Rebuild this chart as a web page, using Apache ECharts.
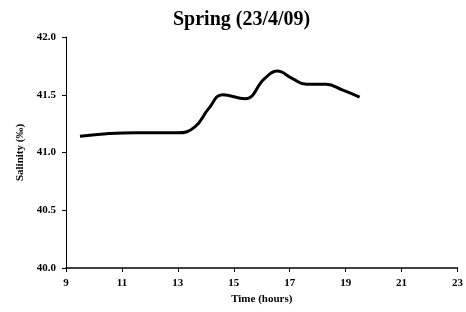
<!DOCTYPE html>
<html>
<head>
<meta charset="utf-8">
<script src="https://cdn.jsdelivr.net/npm/echarts@6/dist/echarts.min.js"></script>
<style>
  html, body { margin: 0; padding: 0; background: #fff; }
  #chart { width: 466px; height: 312px; }
</style>
</head>
<body>
<div id="chart"></div>
<script>
// time of day (hours) and salinity readings
var hours = [9.5, 11.5, 13, 13.6, 14.1, 14.6, 15.4, 16.1, 16.55, 17.1, 17.6, 18.3, 18.9, 19.5]
var salinity = [41.14, 41.17, 41.17, 41.22, 41.38, 41.50, 41.465, 41.64, 41.705, 41.64, 41.59, 41.59, 41.54, 41.48]

var font = 'Liberation Serif'

var chart = echarts.init(document.getElementById('chart'))
chart.setOption({
  animation: false,
  title: {
    text: 'Spring (23/4/09)',
    left: 168,
    top: 5,
    textStyle: { fontFamily: font, fontWeight: 'bold', fontSize: 20, color: '#000' }
  },
  grid: { left: 66, right: 8, top: 37, bottom: 44 },
  xAxis: {
    type: 'value',
    min: 9,
    max: 23,
    interval: 2,
    name: 'Time (hours)',
    nameLocation: 'middle',
    nameGap: 25,
    nameTextStyle: { fontFamily: font, fontWeight: 'bold', fontSize: 11, color: '#000' },
    axisLine: { lineStyle: { color: '#000', width: 1.5 } },
    axisTick: { length: 4, lineStyle: { color: '#000' } },
    axisLabel: { fontFamily: font, fontWeight: 'bold', fontSize: 11, color: '#000', margin: 10 },
    splitLine: { show: false }
  },
  yAxis: {
    type: 'value',
    min: 40,
    max: 42,
    interval: 0.5,
    name: 'Salinity (‰)',
    nameLocation: 'middle',
    nameGap: 31,
    nameTextStyle: { fontFamily: font, fontWeight: 'bold', fontSize: 11, color: '#000' },
    axisLine: { show: true, lineStyle: { color: '#000', width: 1 } },
    axisTick: { show: true, length: 4, lineStyle: { color: '#000' } },
    axisLabel: {
      fontFamily: font, fontWeight: 'bold', fontSize: 11, color: '#000', margin: 10,
      formatter: function (v) { return v.toFixed(1) }
    },
    splitLine: { show: false }
  },
  series: [{
    type: 'line',
    data: hours.map(function (h, i) { return [h, salinity[i]] }),
    smooth: 0.45,
    showSymbol: false,
    lineStyle: { color: '#000', width: 3 }
  }]
})
</script>
</body>
</html>
